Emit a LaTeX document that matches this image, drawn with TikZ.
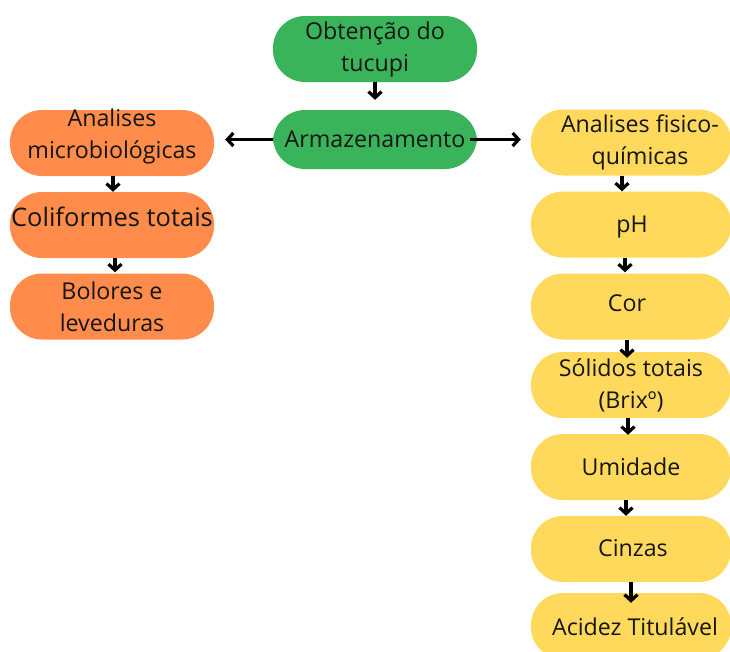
\documentclass[tikz,border=0pt]{standalone}
\usepackage{fontspec}
\setmainfont{Open Sans}
\usetikzlibrary{arrows.meta}
\definecolor{gr}{HTML}{3AB45A}
\definecolor{orn}{HTML}{FF8C4A}
\definecolor{yel}{HTML}{FFD95B}
\definecolor{txt}{HTML}{151515}
\tikzset{
  pill/.style={minimum width=204pt, minimum height=66pt, rounded corners=32pt, inner sep=0pt, align=center, text=txt, font=\fontsize{23.2}{32}\selectfont},
  gbox/.style={pill, fill=gr},
  obox/.style={pill, fill=orn},
  ybox/.style={pill, fill=yel, minimum width=200pt},
  lbl/.style={align=center, text=txt, inner sep=0pt, font=\fontsize{23.2}{32}\selectfont},
  arr/.style={line width=3.2pt, -{Straight Barb[length=6pt,width=13pt,line width=3.2pt]}}
}
\begin{document}
\begin{tikzpicture}[x=1pt,y=-1pt]
\clip (0,0) rectangle (730,651);
\fill[white] (0,0) rectangle (730,651);
% green
\node[gbox] (g1) at (375,49) {Obtenção do\\tucupi};
\node[gbox, minimum height=59pt] (g2) at (375,139.5) {Armazenamento};
% orange
\node[obox] (o1) at (112,143) {};
\node[lbl] (o1t) at (112,136) {Analises\\microbiológicas};
\node[obox] (o2) at (112,225) {};
\node[lbl, font=\fontsize{25.5}{32}\selectfont] (o2t) at (112,217) {Coliformes totais};
\node[obox] (o3) at (112,306.5) {Bolores e\\leveduras};
% yellow
\node[ybox] (y1) at (631,142.5) {\hspace*{18pt}Analises fisico-\\\hspace*{18pt}químicas};
\node[ybox] (y2) at (631,224.5) {};
\node[lbl] (y2t) at (632,227) {pH};
\node[ybox] (y3) at (631,306.5) {};
\node[lbl] (y3t) at (627,303) {Cor};
\node[ybox] (y4) at (631,385) {Sólidos totais\\(Brixº)};
\node[ybox] (y5) at (631,467) {Umidade};
\node[ybox] (y6) at (631,549) {};
\node[lbl] (y6t) at (633,548) {Cinzas};
\node[ybox] (y7) at (631,626) {};
\node[lbl] (y7t) at (635,627) {Acidez Titulável};
% arrows
\draw[arr, shorten >=10pt] (g1.south) -- (g2.north);
\draw[arr, shorten >=11pt] (g2.west) -- (o1.east |- g2.west);
\draw[arr, shorten <=-7pt, shorten >=10pt] (g2.east) -- (y1.west |- g2.east);
\draw[arr, shorten >=0pt] ([xshift=1pt]o1.south) -- ([xshift=1pt]o2.north);
\draw[arr, shorten >=1pt] ([xshift=3pt]o2.south) -- ([xshift=3pt]o3.north);
\draw[arr] ([xshift=-9pt]y1.south) -- ([xshift=-9pt]y2.north);
\draw[arr, shorten >=1pt] ([xshift=-6pt]y2.south) -- ([xshift=-6pt]y3.north);
\draw[arr, shorten >=-6pt] ([xshift=-4pt]y3.south) -- ([xshift=-4pt]y4.north);
\draw[arr, shorten >=-1pt] ([xshift=-3pt]y4.south) -- ([xshift=-3pt]y5.north);
\draw[arr] ([xshift=-5pt]y5.south) -- ([xshift=-5pt]y6.north);
\draw[arr, shorten >=-10pt] (y6.south) -- (y7.north);
\end{tikzpicture}
\end{document}
